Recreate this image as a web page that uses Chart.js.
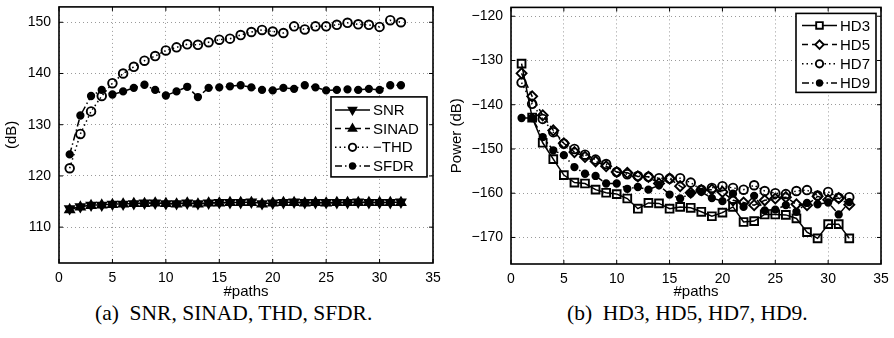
<!DOCTYPE html>
<html>
<head>
<meta charset="utf-8">
<script src="https://cdn.jsdelivr.net/npm/chart.js@4.4.1/dist/chart.umd.min.js"></script>
<style>
  body { margin: 0; background: #fff; width: 894px; height: 338px; position: relative; overflow: hidden; }
  .panel { position: absolute; top: 0; width: 447px; height: 301px; }
  .cap { position: absolute; top: 301px; font-family: "Liberation Serif", "Times New Roman", serif; font-size: 21.5px; line-height: 24px; color: #000; white-space: pre; }
</style>
</head>
<body>
<div class="panel" style="left:0"><canvas id="chartA" width="447" height="301"></canvas></div>
<div class="panel" style="left:447px"><canvas id="chartB" width="447" height="301"></canvas></div>
<div class="cap" style="left:95px">(a)  SNR, SINAD, THD, SFDR.</div>
<div class="cap" style="left:567px">(b)  HD3, HD5, HD7, HD9.</div>
<script>
// x axis: number of paths
const paths = [1, 2, 3, 4, 5, 6, 7, 8, 9, 10, 11, 12, 13, 14, 15, 16,
               17, 18, 19, 20, 21, 22, 23, 24, 25, 26, 27, 28, 29, 30, 31, 32];

// (a) SNR, SINAD, THD, SFDR (dB)
const snr = [113.6, 114.0, 114.3, 114.3, 114.5, 114.5, 114.6, 114.7, 114.7, 114.6, 114.6, 114.7, 114.6, 114.7, 114.8, 114.8,
             114.8, 114.9, 114.6, 114.7, 114.8, 114.9, 114.8, 114.8, 114.8, 114.8, 114.8, 114.9, 114.8, 114.8, 114.8, 114.9];
const sinad = [113.4, 113.9, 114.2, 114.3, 114.4, 114.5, 114.6, 114.6, 114.7, 114.6, 114.5, 114.7, 114.5, 114.7, 114.7, 114.8,
               114.8, 114.8, 114.5, 114.7, 114.8, 114.8, 114.7, 114.8, 114.7, 114.8, 114.8, 114.8, 114.8, 114.8, 114.8, 114.8];
const thdNeg = [121.5, 128.2, 132.6, 135.6, 138.1, 140.0, 141.3, 142.5, 143.4, 144.5, 145.1, 145.7, 145.6, 146.1, 146.6, 146.8,
                147.5, 148.1, 148.5, 148.2, 147.9, 149.2, 148.6, 149.2, 149.2, 149.5, 149.9, 149.6, 149.5, 149.1, 150.4, 150.0];
const sfdr = [124.2, 131.8, 135.6, 136.8, 135.9, 136.5, 137.2, 137.8, 136.8, 135.7, 136.5, 137.4, 135.4, 137.2, 137.3, 137.5,
              137.7, 137.3, 136.8, 136.7, 137.2, 137.0, 137.7, 137.3, 136.7, 136.8, 136.9, 136.8, 137.0, 136.8, 137.7, 137.7];

// (b) harmonic distortion power (dB)
const hd3 = [-130.7, -142.9, -148.6, -152.3, -155.9, -157.6, -157.8, -159.2, -159.9, -160.2, -161.2, -163.5, -162.2, -162.3, -163.5, -163.1,
             -163.3, -164.2, -165.2, -164.4, -163.1, -166.5, -166.3, -164.8, -164.8, -164.9, -165.7, -168.8, -170.2, -167.0, -167.0, -170.2];
const hd5 = [-132.9, -138.1, -142.4, -145.8, -148.7, -150.7, -151.8, -152.8, -153.9, -155.2, -155.4, -156.2, -156.3, -157.8, -156.7, -158.4,
             -159.9, -159.3, -159.2, -159.7, -161.6, -162.1, -162.7, -161.6, -161.2, -160.9, -162.5, -162.7, -160.7, -161.5, -161.1, -162.6];
const hd7 = [-135.0, -139.8, -143.2, -146.2, -148.8, -150.0, -151.3, -152.4, -153.4, -155.2, -155.7, -156.1, -156.3, -156.6, -156.7, -156.6,
             -157.6, -159.2, -158.8, -158.4, -158.8, -159.2, -158.2, -159.5, -160.0, -160.2, -159.5, -159.3, -160.5, -159.7, -161.0, -160.9];
const hd9 = [-143.0, -143.0, -147.3, -150.3, -151.4, -154.1, -155.6, -156.1, -157.8, -157.8, -159.0, -158.6, -159.2, -158.2, -160.3, -161.2,
             -160.1, -159.7, -161.1, -161.8, -160.1, -163.1, -160.6, -163.9, -163.7, -162.7, -164.2, -162.2, -162.5, -162.1, -164.8, -162.0];

// tick labels
const xTicks = [0, 5, 10, 15, 20, 25, 30, 35];
const yTicksA = [110, 120, 130, 140, 150];
const yTicksB = [-170, -160, -150, -140, -130, -120];

const FONT = '"Liberation Sans", Arial, sans-serif';
const DASH = [6, 4], DOT = [1.5, 3], DASHDOT = [7, 3, 1.5, 3];

function pts(arr) {
    return arr.map((v, i) => ({ x: paths[i], y: v }));
}

function series(label, data, dash, style, radius, filled, rotation) {
    return {
        label: label,
        data: pts(data),
        borderColor: '#000',
        backgroundColor: filled ? '#000' : 'rgba(0,0,0,0)',
        borderWidth: 1.5,
        borderDash: dash,
        pointStyle: style,
        pointRadius: radius,
        pointRotation: rotation || 0,
        pointBorderWidth: 1.9,
        pointBorderColor: '#000',
        pointBackgroundColor: filled ? '#000' : 'rgba(0,0,0,0)',
        tension: 0
    };
}

// 坐标框 + 内侧刻度 + 图例（MATLAB 风格）
const boxPlugin = {
    id: 'box',
    afterDatasetsDraw(chart, args, opts) {
        const { ctx, chartArea: a, scales } = chart;
        ctx.save();
        ctx.setLineDash([]);
        ctx.strokeStyle = '#000';
        ctx.lineWidth = 1;
        ctx.beginPath();
        scales.x.ticks.forEach(t => {
            const px = scales.x.getPixelForValue(t.value);
            ctx.moveTo(px, a.bottom); ctx.lineTo(px, a.bottom - 4);
            ctx.moveTo(px, a.top); ctx.lineTo(px, a.top + 4);
        });
        scales.y.ticks.forEach(t => {
            const py = scales.y.getPixelForValue(t.value);
            ctx.moveTo(a.left, py); ctx.lineTo(a.left + 4, py);
            ctx.moveTo(a.right, py); ctx.lineTo(a.right - 4, py);
        });
        ctx.stroke();
        ctx.lineWidth = 1.6;
        ctx.strokeRect(a.left, a.top, a.right - a.left, a.bottom - a.top);

        // legend
        const lx = a.right - opts.right - opts.w;
        const ly = a.top + opts.top;
        ctx.fillStyle = '#fff';
        ctx.fillRect(lx, ly, opts.w, opts.h);
        ctx.lineWidth = 1.6;
        ctx.strokeRect(lx, ly, opts.w, opts.h);
        ctx.font = '15px ' + FONT;
        ctx.textBaseline = 'middle';
        chart.data.datasets.forEach((ds, i) => {
            const y = ly + opts.first + i * opts.row;
            const x0 = lx + opts.lineStart, x1 = lx + opts.lineEnd;
            ctx.strokeStyle = '#000';
            ctx.lineWidth = ds.borderWidth;
            ctx.setLineDash(ds.borderDash);
            ctx.beginPath(); ctx.moveTo(x0, y); ctx.lineTo(x1, y); ctx.stroke();
            ctx.setLineDash([]);
            ctx.lineWidth = ds.pointBorderWidth;
            ctx.fillStyle = ds.pointBackgroundColor === '#000' ? '#000' : '#fff';
            Chart.helpers.drawPoint(ctx, {
                pointStyle: ds.pointStyle,
                radius: ds.pointRadius * 0.85,
                rotation: ds.pointRotation,
                borderWidth: ds.pointBorderWidth
            }, (x0 + x1) / 2, y);
            ctx.fillStyle = '#000';
            ctx.fillText(ds.label, lx + opts.textX, y + 1);
        });
        ctx.restore();
    }
};

function noPad(s) {
    s.paddingTop = 0; s.paddingBottom = 0; s.paddingLeft = 0; s.paddingRight = 0;
}

function makeOptions(yMin, yMax, yTicks, yTitle, yAxisWidth, titlePad, legend) {
    return {
        responsive: false,
        animation: false,
        layout: { padding: { left: 0, top: legend.padTop, right: legend.padRight, bottom: 0 } },
        plugins: {
            legend: { display: false },
            tooltip: { enabled: false },
            box: legend
        },
        scales: {
            x: {
                type: 'linear',
                min: 0, max: 35,
                afterBuildTicks: s => { s.ticks = xTicks.map(v => ({ value: v })); },
                afterFit: s => { s.height = 301 - legend.bottom; noPad(s); },
                grid: { color: '#9a9a9a', lineWidth: 1, drawTicks: false },
                border: { display: false, dash: [1, 3] },
                ticks: { color: '#000', font: { family: FONT, size: 14 }, padding: 7, maxRotation: 0 },
                title: { display: true, text: '#paths', color: '#000', font: { family: FONT, size: 15 }, padding: { top: 0, bottom: 0 } }
            },
            y: {
                type: 'linear',
                min: yMin, max: yMax,
                afterBuildTicks: s => { s.ticks = yTicks.map(v => ({ value: v })); },
                afterFit: s => { s.width = yAxisWidth; noPad(s); },
                grid: { color: '#9a9a9a', lineWidth: 1, drawTicks: false },
                border: { display: false, dash: [1, 3] },
                ticks: {
                    color: '#000', font: { family: FONT, size: 14 }, padding: 8,
                    callback: v => String(v).replace('-', '\u2212')
                },
                title: { display: true, text: yTitle, color: '#000', font: { family: FONT, size: 15 }, padding: { top: titlePad, bottom: 0 } }
            }
        }
    };
}

new Chart(document.getElementById('chartA'), {
    type: 'line',
    data: {
        datasets: [
            series('SNR', snr, [], 'triangle', 5, true, 180),
            series('SINAD', sinad, DASH, 'triangle', 5, true, 0),
            series('\u2212THD', thdNeg, DOT, 'circle', 4.3, false),
            series('SFDR', sfdr, DASHDOT, 'circle', 3.2, true)
        ]
    },
    options: makeOptions(103, 153, yTicksA, '(dB)', 59, 3,
        { padTop: 4, padRight: 14, bottom: 263, right: 6, top: 90, w: 96, h: 80, first: 13, row: 18.7, lineStart: 4, lineEnd: 39, textX: 42 }),
    plugins: [boxPlugin]
});

new Chart(document.getElementById('chartB'), {
    type: 'line',
    data: {
        datasets: [
            series('HD3', hd3, [], 'rect', 5.5, false),
            series('HD5', hd5, DASH, 'rectRot', 5, false),
            series('HD7', hd7, DOT, 'circle', 4.3, false),
            series('HD9', hd9, DASHDOT, 'circle', 3.2, true)
        ]
    },
    options: makeOptions(-176, -118, yTicksB, 'Power (dB)', 64, 1,
        { padTop: 6, padRight: 13, bottom: 264, right: 5, top: 6, w: 80, h: 79, first: 12, row: 19.2, lineStart: 6, lineEnd: 41, textX: 44 }),
    plugins: [boxPlugin]
});
</script>
</body>
</html>
